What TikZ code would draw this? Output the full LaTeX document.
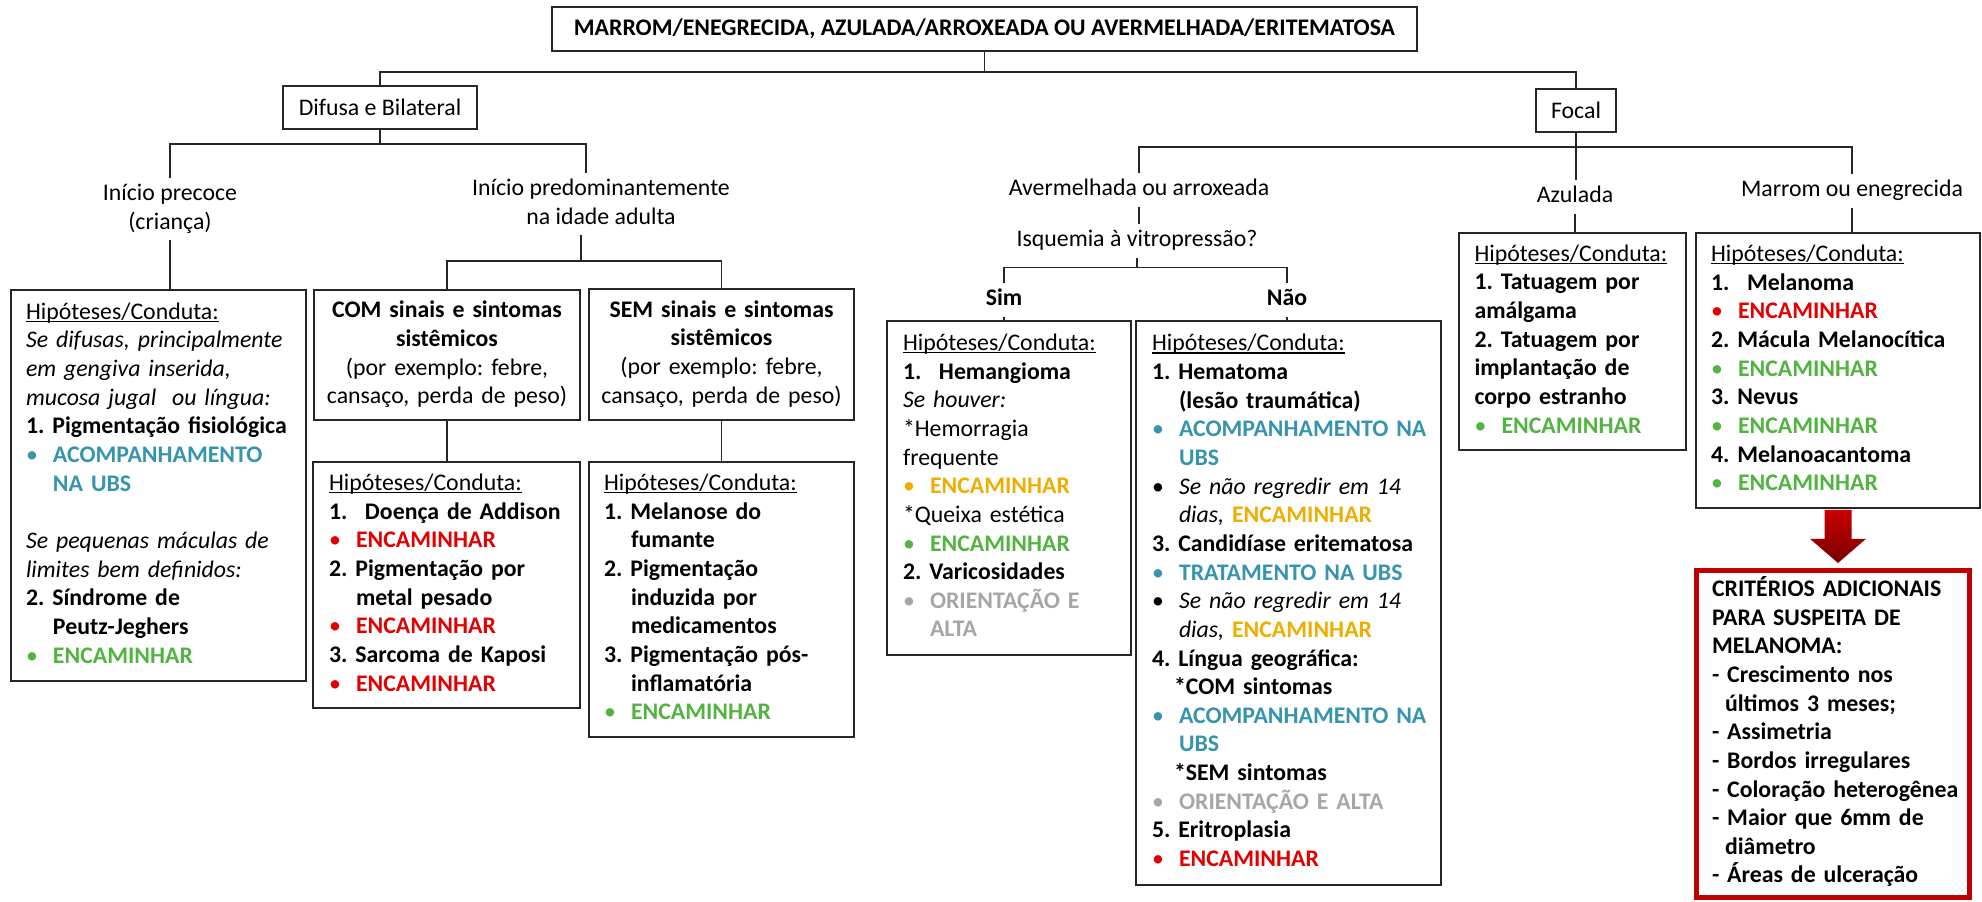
\documentclass[tikz,border=0pt]{standalone}
\usepackage{fontspec}
\setmainfont{Carlito}
\usetikzlibrary{calc}
\frenchspacing

\definecolor{cLine}{HTML}{262626}
\definecolor{cTeal}{HTML}{3794AE}
\definecolor{cGreen}{HTML}{52B440}
\definecolor{cGold}{HTML}{EEAE00}
\definecolor{cRed}{HTML}{E20000}
\definecolor{cGray}{HTML}{A6A6A6}
\definecolor{cCrit}{HTML}{C00000}
\definecolor{cArrowTop}{HTML}{C80000}
\definecolor{cArrowBot}{HTML}{7A0000}

% one text line, kept on one line, with a strut for even spacing
\newcommand\xln[1]{\mbox{\strut#1}}
% bulleted line in a given colour, bold
\newcommand\xbul[2]{\mbox{\strut\makebox[27pt][l]{\textcolor{#1}{\textbullet}}\textcolor{#1}{\bfseries #2}}}
% black bullet with italic text
\newcommand\xbult[1]{\mbox{\strut\makebox[27pt][l]{\textbullet}\itshape #1}}
% indented continuation line
\newcommand\xind[1]{\mbox{\strut\hspace*{27pt}#1}}
% numbered item with a wide gap after the number
\newcommand\xnum[2]{\mbox{\strut\makebox[36pt][l]{\bfseries #1}\bfseries #2}}
% underline that runs through descenders
\newsavebox\hulbox
\newcommand\xhul[1]{\sbox\hulbox{#1}\rlap{\rule[-2.7pt]{\wd\hulbox}{1.4pt}}\usebox\hulbox}
\newcommand\xhip{\xln{\xhul{Hipóteses/Conduta:}}}

\begin{document}
\begin{tikzpicture}[x=1pt,y=1pt,
  every node/.style={font=\fontsize{23.8}{28.65}\selectfont},
  bx/.style={draw=cLine, line width=1.6pt, inner sep=0pt, align=center},
  hb/.style={draw=cLine, line width=1.6pt, inner ysep=0pt, align=left},
  lbl/.style={inner xsep=0pt, inner ysep=2pt, align=center},
  conn/.style={draw=cLine, line width=1.5pt}]

\useasboundingbox (0,0) rectangle (1982,-902);
\fill[white] (0,0) rectangle (1982,-902);

% ---- top levels ----
\node[bx, minimum width=865, minimum height=44,
      font=\fontsize{23.8}{28.65}\selectfont\bfseries] (top) at (984.5,-29)
  {MARROM/ENEGRECIDA, AZULADA/ARROXEADA OU AVERMELHADA/ERITEMATOSA};
\node[bx, minimum width=194, minimum height=43] (difusa) at (380,-107.5) {Difusa e Bilateral};
\node[bx, minimum width=80, minimum height=43] (focal) at (1576,-110.5) {Focal};

% ---- branch labels ----
\node[lbl] (precoce) at (170,-209.3) {\xln{Início precoce}\\\xln{(criança)}};
\node[lbl] (adulta) at (601,-204.3) {\xln{Início predominantemente}\\\xln{na idade adulta}};
\node[lbl] (aver) at (1139,-190) {\xln{Avermelhada ou arroxeada}};
\node[lbl] (isq) at (1137,-241) {\xln{Isquemia à vitropressão?}};
\node[lbl, font=\fontsize{23.8}{28.65}\selectfont\bfseries] (sim) at (1004,-300) {\xln{Sim}};
\node[lbl, font=\fontsize{23.8}{28.65}\selectfont\bfseries] (nao) at (1287,-300) {\xln{Não}};
\node[lbl] (azul) at (1575,-197) {\xln{Azulada}};
\node[lbl] (marrom) at (1852,-191) {\xln{Marrom ou enegrecida}};

% ---- diffuse side ----
\node[hb, inner xsep=15pt, minimum width=295, minimum height=391, text width=265]
  (hipA) at (158.5,-485.5) {%
  \xhip\\
  \xln{\itshape Se difusas, principalmente}\\
  \xln{\itshape em gengiva inserida,}\\
  \xln{\itshape mucosa jugal\ \ ou língua:}\\
  \xln{\bfseries 1. Pigmentação fisiológica}\\
  \xbul{cTeal}{ACOMPANHAMENTO}\\
  \xind{\color{cTeal}\bfseries NA UBS}\\
  \xln{}\\
  \xln{\itshape Se pequenas máculas de}\\
  \xln{\itshape limites bem definidos:}\\
  \xln{\bfseries 2. Síndrome de}\\
  \xind{\bfseries Peutz-Jeghers}\\
  \xbul{cGreen}{ENCAMINHAR}};

\node[bx, minimum width=266, minimum height=130, text width=246] (com) at (447,-355) {%
  \xln{\bfseries COM sinais e sintomas}\\
  \xln{\bfseries sistêmicos}\\
  \xln{(por exemplo: febre,}\\
  \xln{cansaço, perda de peso)}};
\node[bx, minimum width=265, minimum height=131, text width=245] (sem) at (721.5,-354.5) {%
  \xln{\bfseries SEM sinais e sintomas}\\
  \xln{\bfseries sistêmicos}\\
  \xln{(por exemplo: febre,}\\
  \xln{cansaço, perda de peso)}};

\node[hb, inner xsep=16pt, minimum width=267, minimum height=246, text width=235]
  (hipC) at (446.5,-585) {%
  \xhip\\
  \xnum{1.}{Doença de Addison}\\
  \xbul{cRed}{ENCAMINHAR}\\
  \xln{\bfseries 2. Pigmentação por}\\
  \xind{\bfseries metal pesado}\\
  \xbul{cRed}{ENCAMINHAR}\\
  \xln{\bfseries 3. Sarcoma de Kaposi}\\
  \xbul{cRed}{ENCAMINHAR}};

\node[hb, inner xsep=15pt, minimum width=265, minimum height=275, text width=235]
  (hipS) at (721.5,-599.5) {%
  \xhip\\
  \xln{\bfseries 1. Melanose do}\\
  \xind{\bfseries fumante}\\
  \xln{\bfseries 2. Pigmentação}\\
  \xind{\bfseries induzida por}\\
  \xind{\bfseries medicamentos}\\
  \xln{\bfseries 3. Pigmentação pós-}\\
  \xind{\bfseries inflamatória}\\
  \xbul{cGreen}{ENCAMINHAR}};

% ---- focal side ----
\node[hb, inner xsep=16pt, minimum width=244, minimum height=334, text width=212]
  (hipSim) at (1009,-488) {%
  \xhip\\
  \xnum{1.}{Hemangioma}\\
  \xln{\itshape Se houver:}\\
  \xln{*Hemorragia}\\
  \xln{frequente}\\
  \xbul{cGold}{ENCAMINHAR}\\
  \xln{*Queixa estética}\\
  \xbul{cGreen}{ENCAMINHAR}\\
  \xln{\bfseries 2. Varicosidades}\\
  \xbul{cGray}{ORIENTAÇÃO E}\\
  \xind{\color{cGray}\bfseries ALTA}};

\node[hb, inner xsep=16pt, minimum width=305, minimum height=564, text width=273]
  (hipNao) at (1288.5,-603) {%
  \xhip\\
  \xln{\bfseries 1. Hematoma}\\
  \xind{\bfseries (lesão traumática)}\\
  \xbul{cTeal}{ACOMPANHAMENTO NA}\\
  \xind{\color{cTeal}\bfseries UBS}\\
  \xbult{Se não regredir em 14}\\
  \xind{\itshape dias, \textcolor{cGold}{\upshape\bfseries ENCAMINHAR}}\\
  \xln{\bfseries 3. Candidíase eritematosa}\\
  \xbul{cTeal}{TRATAMENTO NA UBS}\\
  \xbult{Se não regredir em 14}\\
  \xind{\itshape dias, \textcolor{cGold}{\upshape\bfseries ENCAMINHAR}}\\
  \xln{\bfseries 4. Língua geográfica:}\\
  \xln{\hspace*{22pt}\bfseries *COM sintomas}\\
  \xbul{cTeal}{ACOMPANHAMENTO NA}\\
  \xind{\color{cTeal}\bfseries UBS}\\
  \xln{\hspace*{22pt}\bfseries *SEM sintomas}\\
  \xbul{cGray}{ORIENTAÇÃO E ALTA}\\
  \xln{\bfseries 5. Eritroplasia}\\
  \xbul{cRed}{ENCAMINHAR}};

\node[hb, inner xsep=15.5pt, minimum width=227, minimum height=217, text width=196]
  (hipAz) at (1572.5,-341.5) {%
  \xhip\\
  \xln{\bfseries 1. Tatuagem por}\\
  \xln{\bfseries amálgama}\\
  \xln{\bfseries 2. Tatuagem por}\\
  \xln{\bfseries implantação de}\\
  \xln{\bfseries corpo estranho}\\
  \xbul{cGreen}{ENCAMINHAR}};

\node[hb, inner xsep=15pt, minimum width=284, minimum height=275, text width=254]
  (hipMar) at (1838,-370.5) {%
  \xhip\\
  \xnum{1.}{Melanoma}\\
  \xbul{cRed}{ENCAMINHAR}\\
  \xln{\bfseries 2. Mácula Melanocítica}\\
  \xbul{cGreen}{ENCAMINHAR}\\
  \xln{\bfseries 3. Nevus}\\
  \xbul{cGreen}{ENCAMINHAR}\\
  \xln{\bfseries 4. Melanoacantoma}\\
  \xbul{cGreen}{ENCAMINHAR}};

\node[draw=cCrit, line width=5pt, inner xsep=15.5pt, inner ysep=0pt, align=left,
      minimum width=273, minimum height=327, text width=242,
      font=\fontsize{23.8}{28.65}\selectfont\bfseries] (crit) at (1833,-734) {%
  \xln{CRITÉRIOS ADICIONAIS}\\
  \xln{PARA SUSPEITA DE}\\
  \xln{MELANOMA:}\\
  \xln{- Crescimento nos}\\
  \xln{\hspace*{13pt}últimos 3 meses;}\\
  \xln{- Assimetria}\\
  \xln{- Bordos irregulares}\\
  \xln{- Coloração heterogênea}\\
  \xln{- Maior que 6mm de}\\
  \xln{\hspace*{13pt}diâmetro}\\
  \xln{- Áreas de ulceração}};

% ---- connectors ----
\draw[conn] (top.south) -- ++(0,-20) coordinate (tb);
\draw[conn] (difusa.north) |- (tb) -| (focal.north);

\draw[conn] (difusa.south) -- ++(0,-14) coordinate (db);
\draw[conn] (precoce.north) |- (db) -| ([xshift=-15pt]adulta.north);
\draw[conn] (precoce.south) -- (precoce.south |- hipA.north);
\draw[conn] ([xshift=-20pt]adulta.south) -- ++(0,-26) coordinate (ab);
\draw[conn] (com.north) |- (ab) -| (sem.north);
\draw[conn] (com.south) -- (com.south |- hipC.north);
\draw[conn] (sem.south) -- (sem.south |- hipS.north);

\draw[conn] (focal.south) -- ++(0,-14) coordinate (fb);
\draw[conn] (aver.north) |- (fb) -| (marrom.north);
\draw[conn] (focal.south) -- (focal.south |- azul.north);
\draw[conn] (aver.south) -- (aver.south |- isq.north);
\draw[conn] (isq.south) -- ++(0,-10) coordinate (ib);
\draw[conn] (sim.north) |- (ib) -| (nao.north);
\draw[conn] (sim.south) -- (sim.south |- hipSim.north);
\draw[conn] (nao.south) -- (nao.south |- hipNao.north);
\draw[conn] (azul.south) -- (azul.south |- hipAz.north);
\draw[conn] (marrom.south) -- (marrom.south |- hipMar.north);

% ---- block arrow to the melanoma criteria ----
\shade[top color=cArrowTop, bottom color=cArrowBot]
  ([xshift=-13.5pt,yshift=-1pt]hipMar.south) -- ++(0,-29) -- ++(-14.5,0)
  -- ($(hipMar.south |- crit.north)+(0,5)$)
  -- ([xshift=28pt,yshift=-30pt]hipMar.south)
  -- ([xshift=13.5pt,yshift=-30pt]hipMar.south)
  -- ([xshift=13.5pt,yshift=-1pt]hipMar.south) -- cycle;
\end{tikzpicture}
\end{document}
